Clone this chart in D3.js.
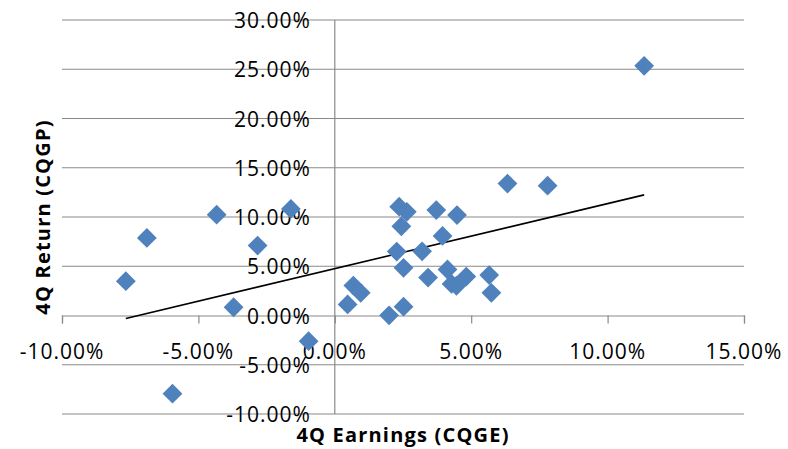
<!DOCTYPE html>
<html>
<head>
<meta charset="utf-8">
<script src="https://cdn.jsdelivr.net/npm/d3@7"></script>
<style>
  html, body { margin: 0; padding: 0; background: #fff; }
  svg { display: block; }
  .tick-label { font-family: "Open Sans", sans-serif; font-size: 21px; letter-spacing: 1px; fill: #000; }
  .axis-title { font-family: "Open Sans", sans-serif; font-size: 20px; font-weight: bold; letter-spacing: 1.2px; fill: #000; }
</style>
</head>
<body>
<script>
// ---- data (values in percent) ----
const earnings = [-7.66, -6.89, -4.33, -2.83, -1.61, -3.71, -0.96, -5.95,
  0.47, 0.68, 0.95, 1.99, 2.52, 2.36, 2.64, 2.44, 2.27, 2.52, 3.20, 3.72,
  3.42, 3.95, 4.13, 4.48, 4.28, 4.46, 4.82, 5.66, 5.74, 6.33, 7.80, 11.34];
const returns = [3.48, 7.88, 10.24, 7.10, 10.82, 0.84, -2.61, -7.94,
  1.12, 3.04, 2.30, 0.02, 0.90, 11.05, 10.53, 9.06, 6.49, 4.84, 6.52, 10.70,
  3.85, 8.08, 4.67, 10.20, 3.21, 3.02, 3.95, 4.10, 2.30, 13.39, 13.18, 25.35];
const xTicks = [-10, -5, 0, 5, 10, 15];
const yTicks = [-10, -5, 0, 5, 10, 15, 20, 25, 30];
const trendSlope = 0.66;
const trendIntercept = 4.76;
const xTitle = "4Q Earnings (CQGE)";
const yTitle = "4Q Return (CQGP)";

(function () {
// ---- layout ----
const W = 788, H = 449;
const pLeft = 62, pRight = 744, pTop = 20, pBottom = 414;

const svg = d3.select("body").append("svg").attr("width", W).attr("height", H);

const x = d3.scaleLinear().domain([-10, 15]).range([pLeft, pRight]);
const y = d3.scaleLinear().domain([-10, 30]).range([pBottom, pTop]);
const fmt = v => v.toFixed(2) + "%";
const gridColor = "#8a8a8a";

// horizontal gridlines
svg.append("g").selectAll("line").data(yTicks.filter(v => v !== 0)).join("line")
  .attr("x1", pLeft).attr("x2", pRight)
  .attr("y1", d => y(d)).attr("y2", d => y(d))
  .attr("stroke", gridColor).attr("stroke-width", 1.2);

// y axis line (at x=0)
svg.append("line")
  .attr("x1", x(0)).attr("x2", x(0)).attr("y1", pTop).attr("y2", pBottom)
  .attr("stroke", gridColor).attr("stroke-width", 1.2);

// x axis (at y=0) with ticks
const xAxis = d3.axisBottom(x).tickValues(xTicks).tickSize(8).tickSizeOuter(8).tickFormat("");
const gx = svg.append("g").attr("transform", `translate(0,${y(0)})`).call(xAxis);
gx.select(".domain").attr("stroke", gridColor).attr("stroke-width", 1.2);
gx.selectAll(".tick line").attr("stroke", gridColor).attr("stroke-width", 1.2);

// y tick labels
svg.append("g").selectAll("text").data(yTicks).join("text")
  .attr("class", "tick-label")
  .attr("x", x(0) - 24).attr("y", d => y(d))
  .attr("text-anchor", "end").attr("dominant-baseline", "central")
  .text(fmt);

// x tick labels
svg.append("g").selectAll("text").data(xTicks).join("text")
  .attr("class", "tick-label")
  .attr("x", d => x(d)).attr("y", y(0) + 35)
  .attr("text-anchor", "middle").attr("dominant-baseline", "central")
  .text(fmt);

// trend line
const xs = d3.extent(earnings);
svg.append("line")
  .attr("x1", x(xs[0])).attr("y1", y(trendIntercept + trendSlope * xs[0]))
  .attr("x2", x(xs[1])).attr("y2", y(trendIntercept + trendSlope * xs[1]))
  .attr("stroke", "#000").attr("stroke-width", 1.6);

// points
const sym = d3.symbol().type(d3.symbolDiamond2).size(250);
svg.append("g").selectAll("path").data(earnings.map((e, i) => [e, returns[i]])).join("path")
  .attr("d", sym)
  .attr("transform", d => `translate(${x(d[0])},${y(d[1])})`)
  .attr("fill", "#4f81bd");

// axis titles
svg.append("text").attr("class", "axis-title")
  .attr("x", (pLeft + pRight) / 2).attr("y", 434)
  .attr("text-anchor", "middle").attr("dominant-baseline", "central")
  .text(xTitle);
svg.append("text").attr("class", "axis-title")
  .attr("transform", `translate(42,${(pTop + pBottom) / 2}) rotate(-90)`)
  .attr("text-anchor", "middle").attr("dominant-baseline", "central")
  .text(yTitle);
})();
</script>
</body>
</html>
